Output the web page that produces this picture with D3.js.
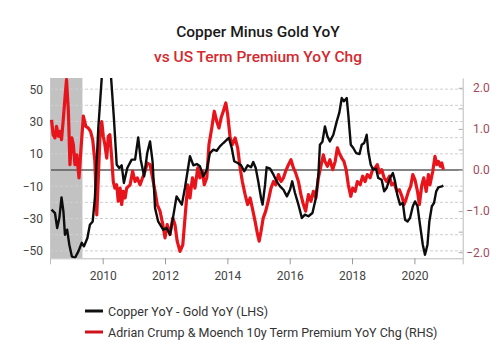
<!DOCTYPE html>
<html><head><meta charset="utf-8">
<script src="https://cdn.jsdelivr.net/npm/d3@7"></script>
<style>
body{margin:0;background:#fff;}
svg{display:block;font-family:Roboto,"Noto Sans",Arial,sans-serif;}
</style></head>
<body>
<svg id="c" width="500" height="355"></svg>
<script>
const title = "Copper Minus Gold YoY";
const subtitle = "vs US Term Premium YoY Chg";
const legendLabels = ["Copper YoY - Gold YoY (LHS)", "Adrian Crump & Moench 10y Term Premium YoY Chg (RHS)"];
const xTicks = [2010, 2012, 2014, 2016, 2018, 2020];
const leftTicks = [50, 30, 10, -10, -30, -50];
const rightTicks = [2.0, 1.0, 0.0, -1.0, -2.0];
const recession = [2008.3, 2009.35];

// Copper YoY - Gold YoY (LHS): [decimal year, value]
const copperYears = [2008.36,2008.47,2008.54,2008.61,2008.68,2008.74,2008.79,2008.86,2008.93,2009.01,2009.11,2009.22,2009.33,2009.40,2009.51,2009.59,2009.68,2009.75,2009.86,2009.97,2010.10,2010.27,2010.36,2010.45,2010.53,2010.61,2010.68,2010.79,2010.93,2011.04,2011.14,2011.22,2011.33,2011.43,2011.52,2011.60,2011.68,2011.78,2011.94,2012.05,2012.16,2012.29,2012.37,2012.54,2012.64,2012.80,2012.91,2013.02,2013.12,2013.23,2013.34,2013.44,2013.55,2013.66,2013.76,2013.87,2013.98,2014.05,2014.14,2014.22,2014.33,2014.44,2014.54,2014.65,2014.76,2014.83,2014.91,2014.99,2015.08,2015.13,2015.21,2015.26,2015.37,2015.48,2015.58,2015.69,2015.80,2015.91,2016.01,2016.08,2016.17,2016.28,2016.39,2016.49,2016.60,2016.73,2016.84,2016.92,2016.97,2017.05,2017.13,2017.21,2017.29,2017.40,2017.51,2017.59,2017.67,2017.74,2017.83,2017.88,2017.96,2018.04,2018.13,2018.24,2018.31,2018.39,2018.47,2018.52,2018.60,2018.68,2018.77,2018.84,2018.95,2019.03,2019.11,2019.22,2019.31,2019.38,2019.45,2019.54,2019.63,2019.70,2019.78,2019.86,2019.95,2020.02,2020.10,2020.18,2020.27,2020.34,2020.42,2020.48,2020.56,2020.63,2020.70,2020.77,2020.88,2020.93];
const copperVals = [-24.5,-26.6,-35.9,-29.7,-16.9,-25.6,-40,-36.9,-46.2,-53.4,-54.4,-50.3,-45,-47.2,-42,-33.8,-31.8,-17.3,26,57,95,57,32,3.3,1.2,2.9,-8,1.2,6.4,6.4,20.2,6.4,-3.9,10.5,17.7,5.4,-23.5,-31.8,-36.9,-35.9,-40,-25.6,-16.3,-21.4,-11,8.5,2.9,3.7,2.3,-3.9,0.2,10.5,12.6,11.9,14.6,16.7,18.7,19.8,13.6,5.4,4.3,2.9,-0.8,2.9,1.7,4.9,1.2,-7,-17.3,-21.4,-9.1,1.7,0.8,-2.9,-7,-10.1,-12.2,-16.3,-12.2,-7,-14.2,-21.4,-29.7,-27.6,-28.6,-26.6,-17.3,-2.9,15.6,17.5,27,20.8,17.7,21.8,30.1,35.3,44.5,42.5,44.5,34.2,15.6,13.6,10.5,9.9,15.6,16.7,21.8,11.6,3.3,0.2,0.8,-4.9,-6,-13.2,-11.1,-4.9,-1.9,-7,-15.2,-21.4,-20.4,-30.7,-31.8,-29.7,-22.4,-19.4,-22.4,-33.8,-46.2,-52.4,-46.2,-31.8,-22.4,-20.4,-13.2,-10.7,-10.1,-9.7];

// Term premium YoY change (RHS)
const termYears = [2008.36,2008.41,2008.47,2008.52,2008.58,2008.63,2008.68,2008.74,2008.79,2008.84,2008.90,2008.95,2009.01,2009.06,2009.11,2009.17,2009.24,2009.29,2009.38,2009.46,2009.54,2009.61,2009.68,2009.75,2009.81,2009.86,2009.91,2009.97,2010.02,2010.07,2010.13,2010.18,2010.23,2010.29,2010.34,2010.39,2010.45,2010.50,2010.56,2010.61,2010.66,2010.72,2010.77,2010.88,2010.96,2011.04,2011.11,2011.20,2011.28,2011.36,2011.43,2011.52,2011.60,2011.68,2011.75,2011.84,2011.93,2012.00,2012.07,2012.16,2012.25,2012.32,2012.39,2012.48,2012.57,2012.64,2012.73,2012.80,2012.88,2012.96,2013.05,2013.12,2013.20,2013.26,2013.34,2013.41,2013.50,2013.58,2013.66,2013.73,2013.80,2013.87,2013.95,2014.01,2014.09,2014.16,2014.25,2014.33,2014.41,2014.48,2014.57,2014.65,2014.73,2014.80,2014.89,2014.97,2015.02,2015.08,2015.15,2015.23,2015.31,2015.40,2015.48,2015.55,2015.64,2015.72,2015.80,2015.87,2015.96,2016.04,2016.12,2016.19,2016.28,2016.36,2016.44,2016.51,2016.60,2016.68,2016.76,2016.84,2016.92,2017.01,2017.08,2017.13,2017.21,2017.29,2017.38,2017.46,2017.53,2017.59,2017.67,2017.74,2017.81,2017.88,2017.96,2018.02,2018.10,2018.17,2018.26,2018.34,2018.42,2018.49,2018.58,2018.66,2018.74,2018.81,2018.88,2018.95,2019.03,2019.11,2019.20,2019.27,2019.35,2019.44,2019.52,2019.60,2019.67,2019.73,2019.81,2019.88,2019.95,2020.02,2020.10,2020.16,2020.24,2020.30,2020.38,2020.45,2020.50,2020.59,2020.66,2020.72,2020.77,2020.83,2020.88,2020.93];
const termVals = [1.22,0.86,0.78,1.06,0.82,0.94,0.74,1.27,1.75,2.2,1.43,0.13,0.78,0.62,0.13,0.37,-0.19,0.37,1.31,1.06,1.02,0.94,0.74,0.21,-1.09,-0.19,0.78,1.18,0.82,0.62,0.29,0.82,0.86,0.29,-0.28,-0.44,-0.36,-0.76,-0.44,-0.84,-0.52,-0.68,-0.44,-0.36,-0.03,-0.28,-0.19,-0.36,-0.19,-0.03,0.17,0.13,-0.19,-0.52,-0.84,-1.0,-1.33,-1.65,-1.33,-1.57,-1.17,-1.33,-1.73,-1.98,-1.82,-1.17,-0.36,-0.68,-0.19,-0.44,0.05,-0.19,-0.03,-0.36,-0.19,0.62,1.02,1.43,1.18,1.02,1.27,1.43,1.63,1.35,0.78,0.62,0.78,0.54,0.05,-0.28,-0.6,-0.84,-0.68,-0.92,-1.25,-1.57,-1.73,-1.49,-1.17,-1.0,-0.76,-0.44,-0.28,-0.36,-0.11,-0.28,-0.19,-0.03,0.13,0.25,0.05,-0.07,-0.28,-0.6,-0.84,-1.0,-0.6,-0.76,-0.52,-0.68,-0.19,0.13,0.37,0.21,0.09,0.25,0.01,0.21,0.54,0.41,0.29,0.21,0.01,-0.36,-0.64,-0.44,-0.52,-0.28,-0.36,-0.15,-0.28,-0.11,-0.19,0.01,0.05,0.13,-0.07,0.01,-0.19,-0.28,-0.15,-0.36,-0.32,-0.52,-0.48,-0.64,-0.84,-0.72,-0.52,-0.4,-0.11,-0.24,-0.52,-0.84,-0.36,-0.19,-0.52,-0.11,-0.36,-0.03,0.33,0.13,0.21,0.09,0.17,0.01];

const svg = d3.select("#c");
const L = 50, R = 462.7, T = 78, B = 258.3;

const x = d3.scaleLinear().domain([2008.31, 2021.55]).range([L, R]);
const yL = d3.scaleLinear().domain([-54.6, 56.9]).range([B, T]);
const yR = d3.scaleLinear().domain([-2.148, 2.238]).range([B, T]);

svg.append("defs").append("clipPath").attr("id","clip")
  .append("rect").attr("x",L).attr("y",T).attr("width",R-L).attr("height",B-T);

// titles
svg.append("text").attr("x",258).attr("y",37).attr("text-anchor","middle")
  .attr("font-size",15.5).attr("font-weight",500).attr("fill","#1a1a1a").text(title);
svg.append("text").attr("x",258).attr("y",62).attr("text-anchor","middle")
  .attr("font-size",15.5).attr("font-weight",500).attr("fill","#d42a2f").text(subtitle);

// recession shading
svg.append("rect").attr("x",x(recession[0])).attr("y",T)
  .attr("width",x(recession[1])-x(recession[0])).attr("height",B-T)
  .attr("fill","#c2c2c2").attr("clip-path","url(#clip)");

// gridlines
const gridVals = d3.range(-50, 51, 10).filter(v => v !== 0);
svg.append("g").selectAll("line").data(gridVals).join("line")
  .attr("x1",L).attr("x2",R).attr("y1",d=>yL(d)).attr("y2",d=>yL(d))
  .attr("stroke","#cfcfcf").attr("stroke-width",1).attr("stroke-dasharray","3,2");

// zero line
svg.append("line").attr("x1",L).attr("x2",R).attr("y1",yL(0)).attr("y2",yL(0))
  .attr("stroke","#5a5a5a").attr("stroke-width",1.3);

// axes
const gx = svg.append("g").attr("transform",`translate(0,${B})`)
  .call(d3.axisBottom(x).tickValues(xTicks).tickFormat(d3.format("d")).tickSize(6).tickPadding(7));
gx.select(".domain").attr("stroke","#bbb");
gx.selectAll(".tick line").attr("stroke","#999");
gx.selectAll(".tick text").attr("fill","#444").attr("font-size",12).attr("font-family","Roboto, sans-serif");

const gl = svg.append("g").attr("transform",`translate(${L},0)`)
  .call(d3.axisLeft(yL).tickValues(leftTicks).tickSize(0).tickPadding(7));
gl.select(".domain").attr("stroke","#c8c8c8");
gl.selectAll(".tick text").attr("fill","#444").attr("font-size",12).attr("font-family","Roboto, sans-serif");

const gr = svg.append("g").attr("transform",`translate(${R},0)`)
  .call(d3.axisRight(yR).tickValues(d3.range(-2,2.01,0.5)).tickSize(0).tickPadding(0).tickFormat(""));
gr.select(".domain").attr("stroke","#bbb");
gr.selectAll(".tick").append("line").attr("x1",-4).attr("x2",0).attr("stroke","#aaa");
const grl = svg.append("g").attr("transform",`translate(${R},0)`)
  .call(d3.axisRight(yR).tickValues(rightTicks).tickSize(0).tickPadding(0).tickFormat(d3.format(".1f")));
grl.select(".domain").remove();
grl.selectAll(".tick text").attr("text-anchor","end").attr("x",27).attr("fill","#a24a5a")
  .attr("font-size",12).attr("font-family","Roboto, sans-serif");

// lines
const termData = termYears.map((d,i)=>[d, termVals[i]]);
const copperData = copperYears.map((d,i)=>[d, copperVals[i]]);
const g = svg.append("g").attr("clip-path","url(#clip)");
g.append("path").datum(termData)
  .attr("d", d3.line().x(d=>x(d[0])).y(d=>yR(d[1])))
  .attr("fill","none").attr("stroke","#e8141b").attr("stroke-width",3.2).attr("stroke-linejoin","round");
g.append("path").datum(copperData)
  .attr("d", d3.line().x(d=>x(d[0])).y(d=>yL(d[1])))
  .attr("fill","none").attr("stroke","#0d0d0d").attr("stroke-width",2.4).attr("stroke-linejoin","round");

// legend
const leg = svg.append("g");
const colors = ["#111","#d0121b"];
legendLabels.forEach((lab,i)=>{
  const yy = 311 + i*21;
  leg.append("line").attr("x1",85).attr("x2",103).attr("y1",yy).attr("y2",yy)
    .attr("stroke",colors[i]).attr("stroke-width",3);
  leg.append("text").attr("x",108).attr("y",yy+4.5).attr("font-size",12.5)
    .attr("fill","#333").text(lab);
});
</script>
</body></html>
